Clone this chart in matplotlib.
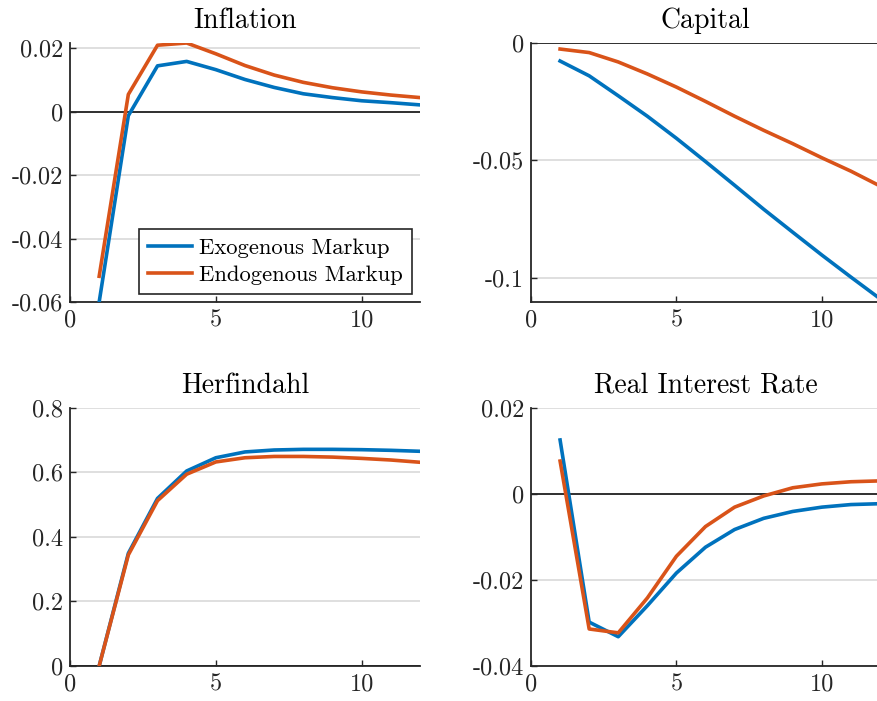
import matplotlib
matplotlib.use('Agg')
import matplotlib.pyplot as plt
import numpy as np

plt.rcParams['font.family'] = 'serif'
plt.rcParams['font.serif'] = ['cmr10', 'DejaVu Serif']
plt.rcParams['mathtext.fontset'] = 'cm'
plt.rcParams['axes.unicode_minus'] = False

# --- data ---
periods = np.arange(1, 13)

inflation_exo = [-0.060, -0.0013, 0.0144, 0.0158, 0.0132, 0.0101, 0.0076, 0.0056, 0.0044, 0.0034, 0.0028, 0.0021]
inflation_endo = [-0.0519, 0.0054, 0.0209, 0.0216, 0.0182, 0.0145, 0.0115, 0.0092, 0.0075, 0.0062, 0.0052, 0.0044]

capital_exo = [-0.0078, -0.0141, -0.0226, -0.0313, -0.0407, -0.0506, -0.0607, -0.0709, -0.0807, -0.0904, -0.0998, -0.109]
capital_endo = [-0.0027, -0.0042, -0.0082, -0.0133, -0.0189, -0.0250, -0.0313, -0.0373, -0.0430, -0.0490, -0.0547, -0.0610]

herf_exo = [0.0, 0.349, 0.519, 0.604, 0.645, 0.663, 0.669, 0.671, 0.671, 0.670, 0.668, 0.665]
herf_endo = [0.0, 0.344, 0.512, 0.594, 0.632, 0.645, 0.649, 0.649, 0.647, 0.643, 0.638, 0.631]

rir_exo = [0.0125, -0.0298, -0.0332, -0.0260, -0.0184, -0.0124, -0.0083, -0.0057, -0.0041, -0.0031, -0.0025, -0.0023]
rir_endo = [0.0076, -0.0314, -0.0323, -0.0242, -0.0145, -0.0076, -0.0031, -0.0005, 0.0014, 0.0023, 0.0028, 0.0030]

panels = [
    ('Inflation', inflation_exo, inflation_endo, (-0.06, 0.0216), [-0.06, -0.04, -0.02, 0, 0.02],
     ['-0.06', '-0.04', '-0.02', '0', '0.02']),
    ('Capital', capital_exo, capital_endo, (-0.1104, 0.0), [-0.1, -0.05, 0],
     ['-0.1', '-0.05', '0']),
    ('Herfindahl', herf_exo, herf_endo, (0.0, 0.8), [0, 0.2, 0.4, 0.6, 0.8],
     ['0', '0.2', '0.4', '0.6', '0.8']),
    ('Real Interest Rate', rir_exo, rir_endo, (-0.04, 0.02), [-0.04, -0.02, 0, 0.02],
     ['-0.04', '-0.02', '0', '0.02']),
]

series_labels = ['Exogenous Markup', 'Endogenous Markup']
blue = '#0072BD'
orange = '#D95319'

W, H = 878, 701
fig = plt.figure(figsize=(W / 100, H / 100), dpi=100)

# axes boxes in pixels: left, right, top, bottom
boxes = [(70, 420, 43, 302), (531, 880, 42.7, 302),
         (70, 420, 407.7, 666), (531, 880, 407.7, 666)]

for (title, exo, endo, ylim, yt, ytl), (l, r, t, b) in zip(panels, boxes):
    ax = fig.add_axes([l / W, 1 - b / H, (r - l) / W, (b - t) / H])
    ax.set_xlim(0, 12)
    ax.set_ylim(*ylim)
    ax.set_yticks(yt)
    ax.set_yticklabels(ytl)
    ax.set_xticks([0, 5, 10])
    ax.set_xticklabels(['0', '5', '10'])
    for y in yt:
        ax.axhline(y, color='#dcdcdc', lw=1.3, zorder=0)
    ax.axhline(0, color='black', lw=1.1, zorder=1)
    ax.plot(periods, exo, color=blue, lw=2.6, label=series_labels[0], zorder=3)
    ax.plot(periods, endo, color=orange, lw=2.6, label=series_labels[1], zorder=3)
    # fixed y so the title is not pushed up by the auto positioning
    ax.set_title(title, fontsize=20, y=1.0, pad=10.8)
    for s in ['top', 'right']:
        ax.spines[s].set_visible(False)
    for s in ['left', 'bottom']:
        ax.spines[s].set_color('#262626')
        ax.spines[s].set_linewidth(1.3)
    ax.tick_params(direction='in', length=4, width=1, colors='#262626',
                   labelsize=17.5, labelcolor='#262626', pad=5)
    if title == 'Inflation':
        leg = ax.legend(loc='lower right', bbox_to_anchor=(0.977, 0.031), borderaxespad=0,
                        fontsize=16.3, fancybox=False, edgecolor='#262626',
                        handlelength=1.95, handletextpad=0.3, borderpad=0.4,
                        labelspacing=0.32, framealpha=1)
        leg.get_frame().set_linewidth(1.2)

fig.savefig('out.png', dpi=100)
